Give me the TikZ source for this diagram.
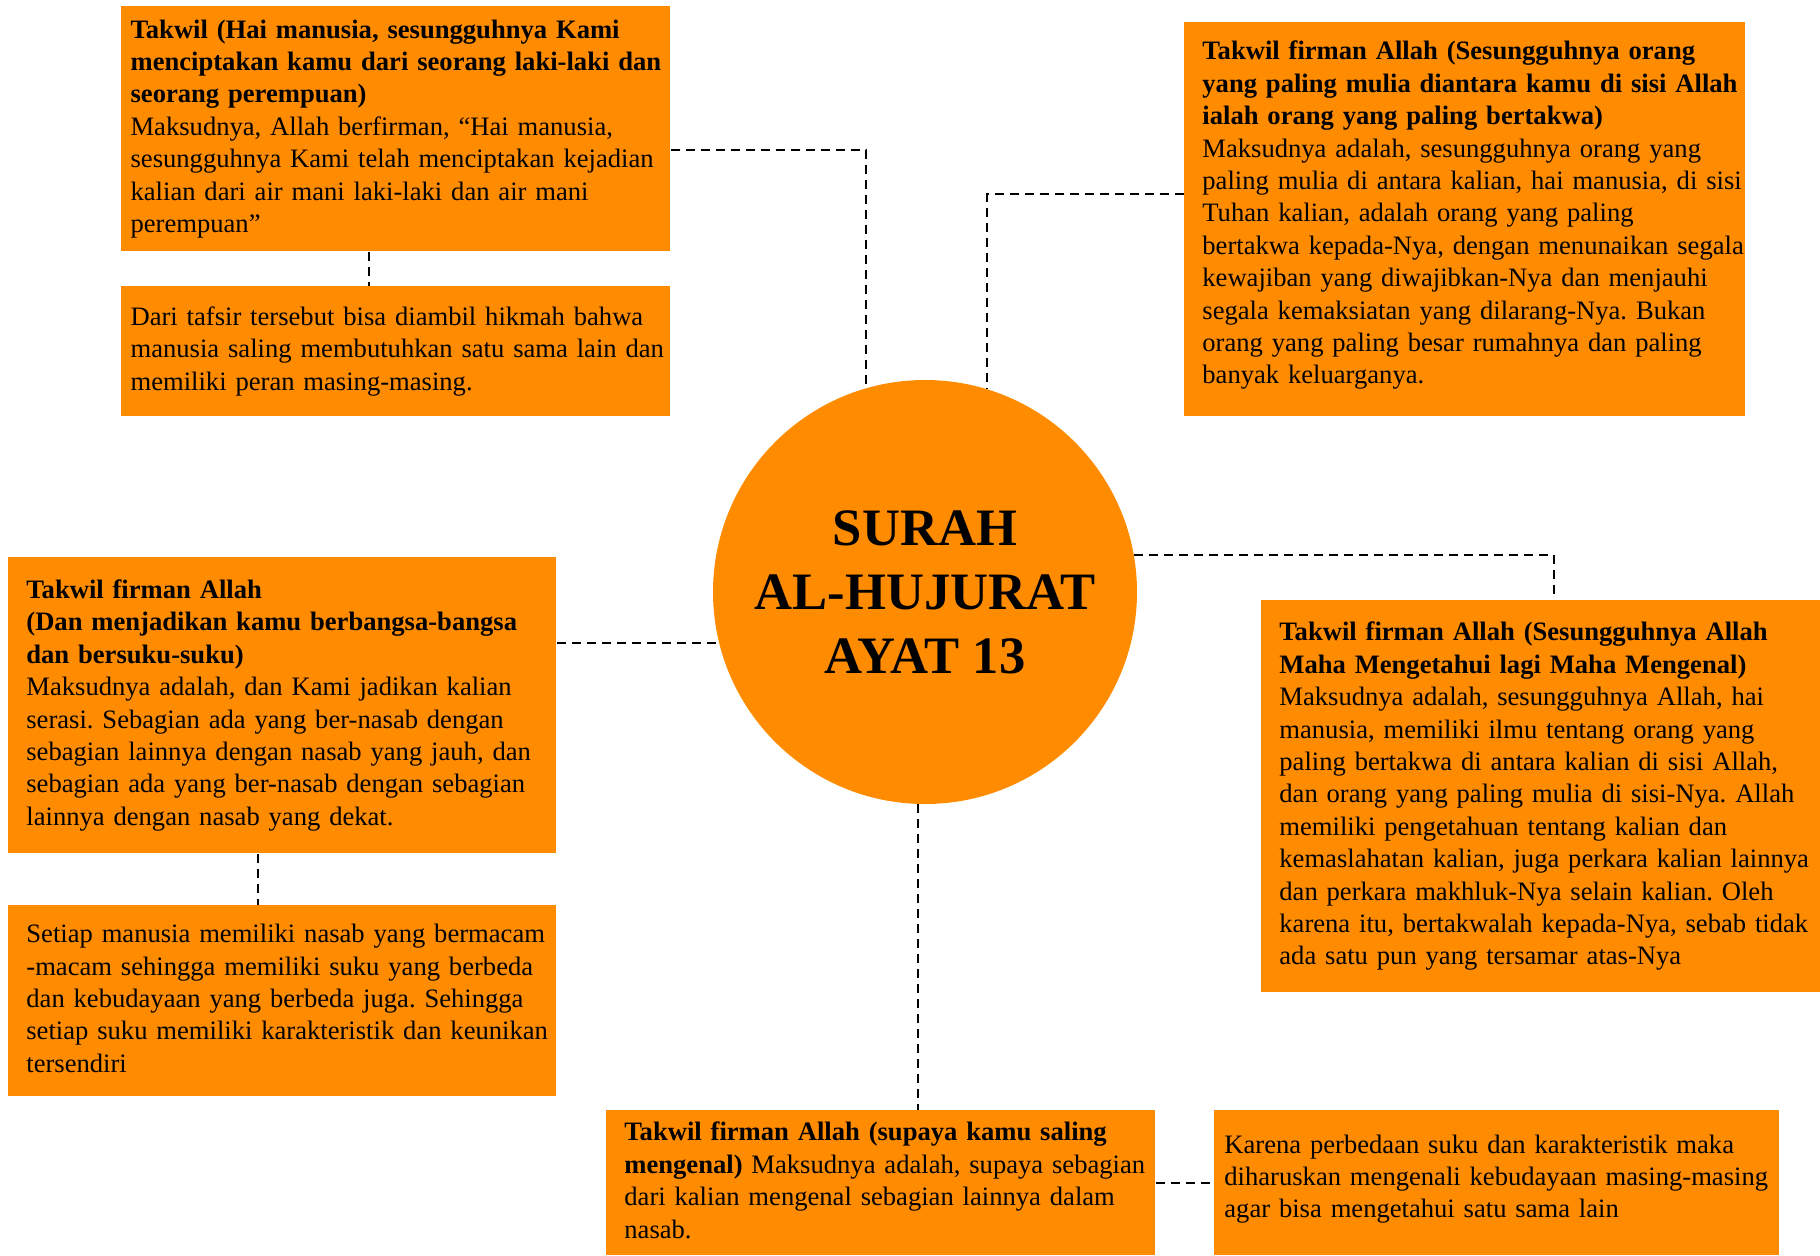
\documentclass[tikz,border=0pt]{standalone}
\usepackage{fontspec}
\setmainfont{Liberation Serif}
\usepackage{xcolor}
\usepackage{tikz}
\usetikzlibrary{calc}
\definecolor{corange}{HTML}{FF8C00}
\newcommand{\rows}[1]{\begin{tabular}{@{}l@{}}#1\end{tabular}}
\frenchspacing

\begin{document}
\begin{tikzpicture}[x=1pt, y=-1pt,
 box/.style={rectangle, fill=corange, anchor=north west, inner xsep=9pt, inner ysep=0pt,
 align=left, font=\fontsize{13.3}{16.2}\selectfont},
 hub/.style={circle, fill=corange, minimum size=212pt, inner sep=0pt, align=center,
 font=\bfseries\fontsize{26.3}{32}\selectfont},
 link/.style={draw=black, line width=1pt, dash pattern=on 4.5pt off 3pt},
]
 \useasboundingbox (0,0) rectangle (910,627.5);

 \node[hub] (S) at (462.5,296) {SURAH\\AL-HUJURAT\\AYAT 13};

 \node[box, inner xsep=4.6pt, text width=265.3pt, minimum height=122.5pt] (A) at (60.5,3) {\rows{\textbf{Takwil (Hai manusia, sesungguhnya Kami}\\\textbf{menciptakan kamu dari seorang laki-laki dan}\\\textbf{seorang perempuan)}\\Maksudnya, Allah berfirman, “Hai manusia,\\sesungguhnya Kami telah menciptakan kejadian\\kalian dari air mani laki-laki dan air mani\\perempuan”}};
 \node[box, inner xsep=4.6pt, text width=265.3pt, minimum height=65pt] (A2) at (60.5,143) {\rows{Dari tafsir tersebut bisa diambil hikmah bahwa\\manusia saling membutuhkan satu sama lain dan\\memiliki peran masing-masing.}};
 \node[box, text width=262.5pt, minimum height=197pt] (B) at (592,11) {\rows{\textbf{Takwil firman Allah (Sesungguhnya orang}\\\textbf{yang paling mulia diantara kamu di sisi Allah}\\\textbf{ialah orang yang paling bertakwa)}\\Maksudnya adalah, sesungguhnya orang yang\\paling mulia di antara kalian, hai manusia, di sisi\\Tuhan kalian, adalah orang yang paling\\bertakwa kepada-Nya, dengan menunaikan segala\\kewajiban yang diwajibkan-Nya dan menjauhi\\segala kemaksiatan yang dilarang-Nya. Bukan\\orang yang paling besar rumahnya dan paling\\banyak keluarganya.\\[4pt]}};
 \node[box, text width=256pt, minimum height=148pt] (C) at (4,278.5) {\rows{\textbf{Takwil firman Allah}\\\textbf{(Dan menjadikan kamu berbangsa-bangsa}\\\textbf{dan bersuku-suku)}\\Maksudnya adalah, dan Kami jadikan kalian\\serasi. Sebagian ada yang ber-nasab dengan\\sebagian lainnya dengan nasab yang jauh, dan\\sebagian ada yang ber-nasab dengan sebagian\\lainnya dengan nasab yang dekat.}};
 \node[box, text width=256pt, minimum height=95.5pt] (C2) at (4,452.5) {\rows{Setiap manusia memiliki nasab yang bermacam\\-macam sehingga memiliki suku yang berbeda\\dan kebudayaan yang berbeda juga. Sehingga\\setiap suku memiliki karakteristik dan keunikan\\tersendiri}};
 \node[box, text width=261.5pt, minimum height=196pt] (D) at (630.5,300) {\rows{\textbf{Takwil firman Allah (Sesungguhnya Allah}\\\textbf{Maha Mengetahui lagi Maha Mengenal)}\\Maksudnya adalah, sesungguhnya Allah, hai\\manusia, memiliki ilmu tentang orang yang\\paling bertakwa di antara kalian di sisi Allah,\\dan orang yang paling mulia di sisi-Nya. Allah\\memiliki pengetahuan tentang kalian dan\\kemaslahatan kalian, juga perkara kalian lainnya\\dan perkara makhluk-Nya selain kalian. Oleh\\karena itu, bertakwalah kepada-Nya, sebab tidak\\ada satu pun yang tersamar atas-Nya}};
 \node[box, text width=256.5pt, minimum height=72.5pt] (E) at (303,555) {\rows{\textbf{Takwil firman Allah (supaya kamu saling}\\\textbf{mengenal)} Maksudnya adalah, supaya sebagian\\dari kalian mengenal sebagian lainnya dalam\\nasab.}};
 \node[box, inner xsep=5pt, text width=272.5pt, minimum height=72.5pt] (F) at (607,555) {\rows{Karena perbedaan suku dan karakteristik maka\\diharuskan mengenali kebudayaan masing-masing\\agar bisa mengetahui satu sama lain\\[4pt]}};

 \draw[link] ([xshift=-13.25pt]A.south) -- ([xshift=-13.25pt]A2.north);
 \draw[link] ([yshift=-10.75pt]A.east) -| (S.106);
 \draw[link] ([yshift=12.5pt]B.west) -| (S.73);
 \draw[link] (S.194 -| C.east) -- (S.194);
 \draw[link] ([xshift=-12pt]C.south) -- ([xshift=-12pt]C2.north);
 \draw[link] (S.10) -| ([xshift=6.5pt]D.north);
 \draw[link] (S.268) -- (S.268 |- E.north);
 \draw[link] (E.east) -- (F.west);
\end{tikzpicture}
\end{document}
